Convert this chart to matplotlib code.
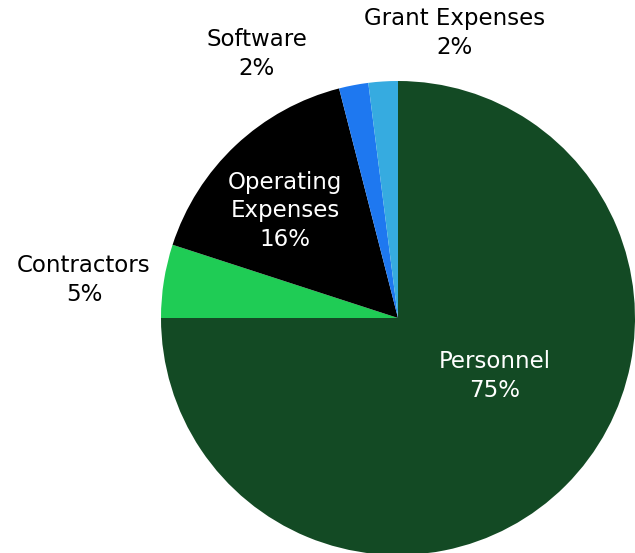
import matplotlib.pyplot as plt

# data
categories = ["Personnel", "Contractors", "Operating\nExpenses", "Software", "Grant Expenses"]
shares = [75, 5, 16, 2, 2]
colors = ["#134a24", "#1fcc55", "#000000", "#1e78f0", "#36abe0"]

# label placement (pixel coords, y from top) and text colour
label_pos = [(495, 376), (84, 280), (285, 211), (257, 54), (455, 33)]
label_color = ["white", "black", "white", "black", "black"]

W, H = 635, 553
fig = plt.figure(figsize=(W / 100, H / 100), dpi=100)
ax = fig.add_axes([0, 0, 1, 1])

ax.pie(shares, colors=colors, startangle=90, counterclock=False,
       center=(398, H - 318), radius=237, frame=True,
       wedgeprops=dict(linewidth=0))

for name, val, (x, y), c in zip(categories, shares, label_pos, label_color):
    ax.text(x, H - y, f"{name}\n{val}%", ha="center", va="center",
            fontsize=16.5, color=c, linespacing=1.33, family="DejaVu Sans")

ax.set_xlim(0, W)
ax.set_ylim(0, H)
ax.set_aspect("equal")
ax.axis("off")

fig.savefig("out.png", dpi=100)
